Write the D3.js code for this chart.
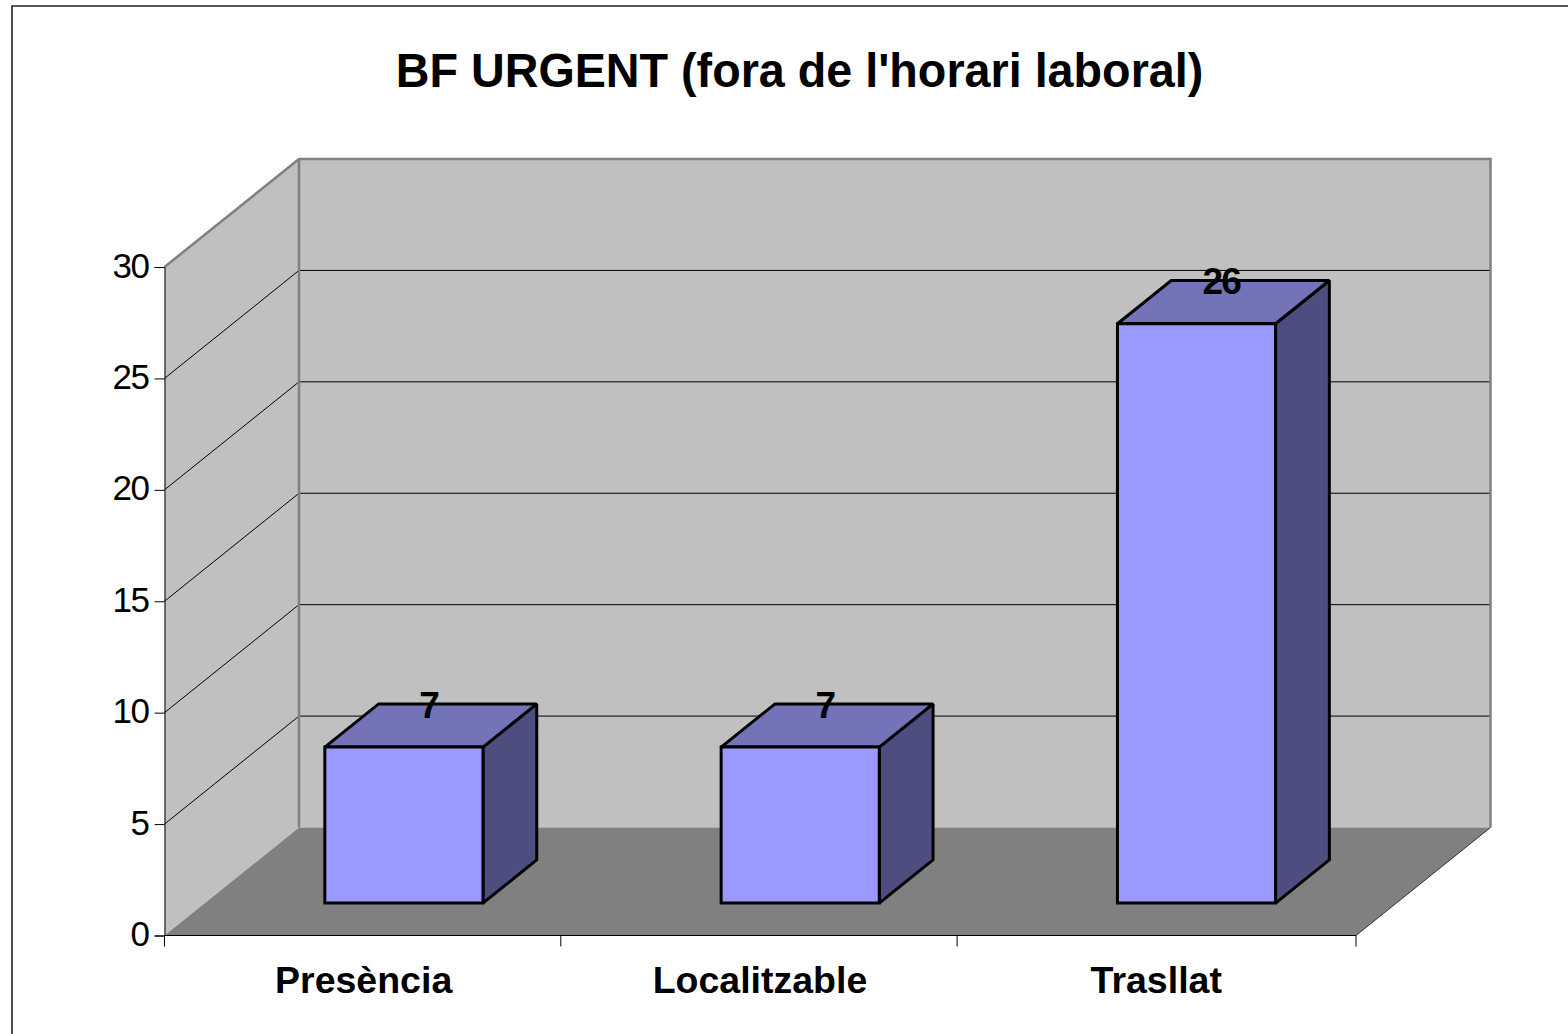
<!DOCTYPE html>
<html><head><meta charset="utf-8">
<script src="https://cdn.jsdelivr.net/npm/d3@7"></script>
<style>html,body{margin:0;padding:0;background:#fff;overflow:hidden}svg{display:block}text{font-family:"Liberation Sans",Arial,sans-serif;fill:#000}</style>
</head><body><div id="chart"></div>
<script>
const chartTitle = "BF URGENT (fora de l'horari laboral)";
const categories = ["Presència","Localitzable","Trasllat"];
const values = [7,7,26];
const yTicks = [0,5,10,15,20,25,30];

const W=1568,H=1034;
const svg=d3.select("#chart").append("svg").attr("width",W).attr("height",H);
svg.append("path").attr("d","M12,1034V6H1568").attr("fill","none").attr("stroke","#222").attr("stroke-width",1.6);

const x=d3.scaleBand().domain(categories).range([164.5,1353.4]);
const y=d3.scaleLinear().domain([0,30]).range([935.5,267]);
const dx=d3.scaleLinear().domain([0,1]).range([0,134.5]);
const dy=d3.scaleLinear().domain([0,1]).range([0,-108]);
const P=(px,v,d)=>[px+dx(d),y(v)+dy(d)];
const line=d3.line();
const x0=164.5,x1=1356,yMax=d3.max(yTicks);
const poly=(pts,fill,stroke,sw)=>svg.append("path").attr("d",line(pts)+"Z").attr("fill",fill).attr("stroke",stroke||"none").attr("stroke-width",sw||0).attr("stroke-linejoin","miter").attr("stroke-miterlimit",2);

// walls & floor
poly([P(x0,0,0),P(x0,yMax,0),P(x0,yMax,1),P(x0,0,1)],"#c0c0c0");
poly([P(x0,0,1),P(x0,yMax,1),P(x1,yMax,1),P(x1,0,1)],"#c0c0c0");
poly([P(x0,0,0),P(x0,0,1),P(x1,0,1),P(x1,0,0)],"#808080");

// gridlines
yTicks.filter(t=>t>0&&t<yMax).forEach(t=>{
  svg.append("path").attr("d",line([P(x0,t,0),P(x0,t,1),P(x1,t,1)])).attr("fill","none").attr("stroke","#000").attr("stroke-width",1);
});
// wall edges
svg.append("path").attr("d",line([P(x0,yMax,0),P(x0,yMax,1),P(x1,yMax,1),P(x1,0,1)])).attr("fill","none").attr("stroke","#808080").attr("stroke-width",2.5);
svg.append("path").attr("d",line([P(x0,yMax,1),P(x0,0,1)])).attr("fill","none").attr("stroke","#808080").attr("stroke-width",2.5);
svg.append("path").attr("d",line([P(x1,0,1),P(x1,0,0)])).attr("fill","none").attr("stroke","#333").attr("stroke-width",1);

// axes
const yAxis=d3.axisLeft(y).tickValues(yTicks).tickSize(10).tickPadding(6).tickFormat(d3.format("d"));
const gy=svg.append("g").attr("transform",`translate(${x0},0)`).call(yAxis);
gy.selectAll("text").attr("font-family",null).style("font-size","35px").style("letter-spacing","-1.5px").attr("dy","0.29em");
const gx=svg.append("g").attr("transform","translate(0,935.5)");
gx.append("line").attr("x1",x0).attr("x2",x1).attr("stroke","#000");
[x0,...categories.slice(1).map(c=>x(c)),x1].forEach(t=>gx.append("line").attr("x1",t).attr("x2",t).attr("y1",0).attr("y2",11).attr("stroke","#000"));

// category labels
svg.selectAll("text.cat").data(categories).join("text").attr("class","cat")
  .attr("x",d=>x(d)+x.bandwidth()/2+1).attr("y",993).attr("text-anchor","middle")
  .style("font-size","37.5px").style("font-weight","bold").text(d=>d);

// bars
const barW=x.bandwidth()*0.399, dFront=0.30, dBack=0.70;
categories.forEach((c,i)=>{
  const v=values[i], l=x(c)+(x.bandwidth()-barW)/2+0.9, r=l+barW;
  const sw=3;
  poly([P(r,0,dFront),P(r,v,dFront),P(r,v,dBack),P(r,0,dBack)],"#4d4d80","#000",sw);
  poly([P(l,v,dFront),P(r,v,dFront),P(r,v,dBack),P(l,v,dBack)],"#7373b8","#000",sw);
  poly([P(l,0,dFront),P(l,v,dFront),P(r,v,dFront),P(r,0,dFront)],"#9999ff","#000",sw);
});
// data labels
categories.forEach((c,i)=>{
  const v=values[i], m=x(c)+x.bandwidth()/2;
  const p=P(m,v,0.49);
  svg.append("text").attr("x",p[0]).attr("y",p[1]-9).attr("text-anchor","middle")
    .style("font-size","37px").style("font-weight","bold").style("letter-spacing","-2px").text(v);
});
svg.append("text").attr("transform","translate(799.5,86.5) scale(0.953,1)").attr("text-anchor","middle").style("font-size","49px").style("font-weight","bold").text(chartTitle);
</script></body></html>
